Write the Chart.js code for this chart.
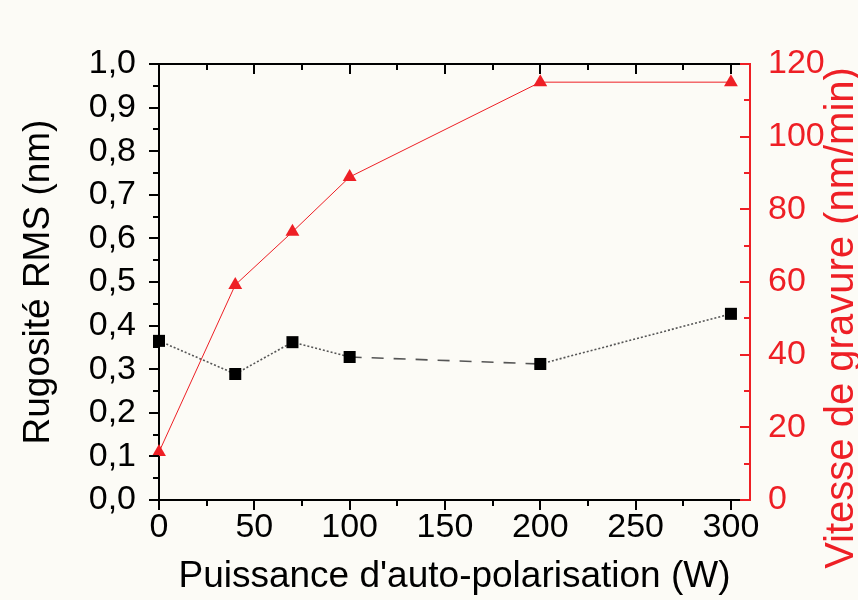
<!DOCTYPE html>
<html lang="fr">
<head>
    <meta charset="UTF-8">
    <title>Rugosité et vitesse de gravure</title>
    <script src="https://cdn.jsdelivr.net/npm/chart.js"></script>
    <style>
        body {
            margin: 0;
            background-color: #fcfbf6;
            font-family: "Liberation Sans", Arial, sans-serif;
        }
        #wrap {
            width: 858px;
            height: 600px;
        }
    </style>
</head>
<body>
    <div id="wrap">
        <canvas id="gravureChart" width="858" height="600"></canvas>
    </div>

    <script>
        // data
        const power = [0, 40, 70, 100, 200, 300];
        const roughness = [0.365, 0.289, 0.362, 0.328, 0.312, 0.427];
        const etchRate = [13.2, 59.2, 73.8, 88.9, 115, 115];

        const xTicks = [0, 50, 100, 150, 200, 250, 300];
        const xMinor = [25, 75, 125, 175, 225, 275];
        const yTicks = [0, 0.1, 0.2, 0.3, 0.4, 0.5, 0.6, 0.7, 0.8, 0.9, 1.0];
        const yMinor = [0.05, 0.15, 0.25, 0.35, 0.45, 0.55, 0.65, 0.75, 0.85, 0.95];
        const y2Ticks = [0, 20, 40, 60, 80, 100, 120];
        const y2Minor = [10, 30, 50, 70, 90, 110];

        const RED = '#ee1f25';
        const FONT = '"Liberation Sans", Arial, sans-serif';

        // axis tick marks (majors + minors), drawn from the chart scales
        const tickMarks = {
            id: 'tickMarks',
            beforeDraw(chart) {
                const c = chart.ctx;
                c.save();
                c.fillStyle = '#fcfbf6';
                c.fillRect(0, 0, chart.width, chart.height);
                c.restore();
            },
            afterDraw(chart) {
                const c = chart.ctx;
                const a = chart.chartArea;
                const sx = chart.scales.x, sy = chart.scales.y, sy2 = chart.scales.y2;
                c.save();
                c.lineWidth = 2;

                function hTick(list, len, y, dir, color) {
                    c.strokeStyle = color;
                    list.forEach(v => {
                        const px = Math.round(sx.getPixelForValue(v));
                        c.beginPath();
                        c.moveTo(px, y);
                        c.lineTo(px, y + dir * len);
                        c.stroke();
                    });
                }
                function vTick(scale, list, len, x, dir, color) {
                    c.strokeStyle = color;
                    list.forEach(v => {
                        const py = Math.round(scale.getPixelForValue(v));
                        c.beginPath();
                        c.moveTo(x, py);
                        c.lineTo(x + dir * len, py);
                        c.stroke();
                    });
                }

                // top frame line
                c.strokeStyle = '#000';
                c.beginPath();
                c.moveTo(a.left, a.top);
                c.lineTo(a.right - 8, a.top);
                c.stroke();
                c.strokeStyle = RED;
                c.beginPath();
                c.moveTo(a.right - 8, a.top);
                c.lineTo(a.right + 1, a.top);
                c.stroke();

                hTick(xTicks, 10, a.bottom, 1, '#000');
                hTick(xMinor, 6, a.bottom, 1, '#000');
                hTick(xTicks, 10, a.top, 1, '#000');
                hTick(xMinor, 6, a.top, 1, '#000');
                vTick(sy, yTicks, 10, a.left, -1, '#000');
                vTick(sy, yMinor, 6, a.left, -1, '#000');
                vTick(sy2, y2Ticks, 10, a.right, -1, RED);
                vTick(sy2, y2Minor, 6, a.right, -1, RED);

                // right axis title, reading bottom to top
                c.translate(842, 318);
                c.rotate(-Math.PI / 2);
                c.fillStyle = RED;
                c.font = '40px ' + FONT;
                c.textAlign = 'center';
                c.textBaseline = 'middle';
                c.fillText('Vitesse de gravure (nm/min)', 0, 0);
                c.restore();
            }
        };

        const ctx = document.getElementById('gravureChart').getContext('2d');
        new Chart(ctx, {
            type: 'line',
            data: {
                datasets: [
                    {
                        label: 'Rugosité RMS',
                        data: power.map((p, i) => ({ x: p, y: roughness[i] })),
                        yAxisID: 'y',
                        borderColor: '#555',
                        borderWidth: 1.6,
                        pointStyle: 'rect',
                        pointRadius: 8.5,
                        pointBackgroundColor: '#000',
                        pointBorderColor: '#000',
                        pointBorderWidth: 0,
                        segment: {
                            borderDash: s => s.p0DataIndex === 3 ? [12, 10] : [2, 2]
                        }
                    },
                    {
                        label: 'Vitesse de gravure',
                        data: power.map((p, i) => ({ x: p, y: etchRate[i] })),
                        yAxisID: 'y2',
                        borderColor: RED,
                        borderWidth: 1,
                        pointStyle: 'triangle',
                        pointRadius: 8,
                        pointBackgroundColor: RED,
                        pointBorderColor: RED,
                        pointBorderWidth: 0
                    }
                ]
            },
            options: {
                responsive: false,
                animation: false,
                clip: false,
                layout: { padding: { top: 64, left: 0, right: 0, bottom: 0 } },
                plugins: {
                    legend: { display: false },
                    tooltip: { enabled: false }
                },
                scales: {
                    x: {
                        type: 'linear',
                        position: 'bottom',
                        min: 0,
                        max: 310,
                        grid: { display: false },
                        border: { display: true, color: '#000', width: 2 },
                        ticks: {
                            stepSize: 50,
                            includeBounds: false,
                            autoSkip: false,
                            color: '#000',
                            padding: 3,
                            maxRotation: 0,
                            font: { family: FONT, size: 34, lineHeight: 1 }
                        },
                        title: {
                            display: true,
                            text: "Puissance d'auto-polarisation (W)",
                            color: '#000',
                            padding: { top: 0, bottom: 1 },
                            font: { family: FONT, size: 37 }
                        },
                        afterFit: s => { s.height = 100; }
                    },
                    y: {
                        type: 'linear',
                        position: 'left',
                        min: 0,
                        max: 1,
                        grid: { display: false },
                        border: { display: true, color: '#000', width: 2 },
                        ticks: {
                            stepSize: 0.1,
                            autoSkip: false,
                            color: '#000',
                            padding: 15,
                            font: { family: FONT, size: 34, lineHeight: 1 },
                            callback: v => v.toFixed(1).replace('.', ',')
                        },
                        title: {
                            display: true,
                            text: 'Rugosité RMS (nm)',
                            color: '#000',
                            padding: { top: 17, bottom: 0 },
                            font: { family: FONT, size: 37 }
                        },
                        afterFit: s => { s.width = 159; }
                    },
                    y2: {
                        type: 'linear',
                        position: 'right',
                        min: 0,
                        max: 120,
                        grid: { display: false },
                        border: { display: true, color: RED, width: 2 },
                        ticks: {
                            stepSize: 20,
                            autoSkip: false,
                            color: RED,
                            padding: 10,
                            font: { family: FONT, size: 34, lineHeight: 1 }
                        },
                        afterFit: s => { s.width = 108; }
                    }
                }
            },
            plugins: [tickMarks]
        });
    </script>
</body>
</html>
